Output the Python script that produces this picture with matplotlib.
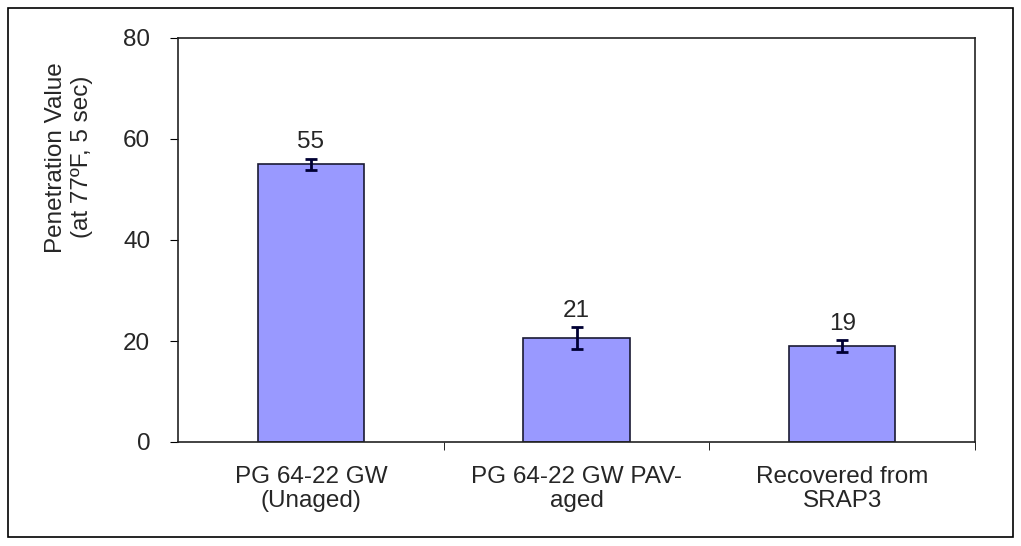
import matplotlib.pyplot as plt
from matplotlib.patches import Rectangle

plt.rcParams['font.family'] = ['Liberation Sans', 'DejaVu Sans']

categories = ['PG 64-22 GW\n(Unaged)', 'PG 64-22 GW PAV-\naged', 'Recovered from\nSRAP3']
values = [55.0, 20.6, 19.0]
errors = [1.1, 2.1, 1.1]
labels = ['55', '21', '19']

FS = 17.5
TXT = '#262626'

fig = plt.figure(figsize=(10.21, 5.46), dpi=100)
ax = fig.add_axes([178 / 1021, 1 - 442 / 546, 797 / 1021, 404 / 546])

x = range(len(categories))
ax.bar(x, values, width=0.4, color='#9999FF', edgecolor='#1a1a33', linewidth=1.2)
ax.errorbar(x, values, yerr=errors, fmt='none', ecolor='#000033', elinewidth=2,
            capsize=4.5, capthick=2)
for i, (v, e, t) in enumerate(zip(values, errors, labels)):
    ax.text(i, v + e + 2.1, t, ha='center', va='baseline', fontsize=FS, color=TXT)

ax.set_xlim(-0.5, len(categories) - 0.5)
ax.set_ylim(0, 80)
ax.set_yticks([0, 20, 40, 60, 80])
ax.set_xticks([0, 1, 2])
ax.set_xticklabels(categories, fontsize=FS, color=TXT, linespacing=1.15)
ax.tick_params(axis='x', length=0, pad=17)
ax.set_xticks([0.5, 1.5, 2.5], minor=True)
ax.tick_params(axis='x', which='minor', length=6, direction='out')
ax.tick_params(axis='y', length=6, direction='out', pad=14, labelsize=FS, labelcolor=TXT)
for s in ax.spines.values():
    s.set_linewidth(1.2)
    s.set_color('#222222')

ax.set_ylabel('Penetration Value\n(at 77ºF, 5 sec)', fontsize=FS, color=TXT,
              linespacing=1.2, va='center')
ax.yaxis.set_label_coords(-0.137, 0.705)

# outer chart border
fig.patches.append(Rectangle((8 / 1021, 9 / 546), 1005 / 1021, 529 / 546,
                             transform=fig.transFigure, fill=False,
                             edgecolor='black', linewidth=1.2))

fig.savefig('out.png', dpi=100)
